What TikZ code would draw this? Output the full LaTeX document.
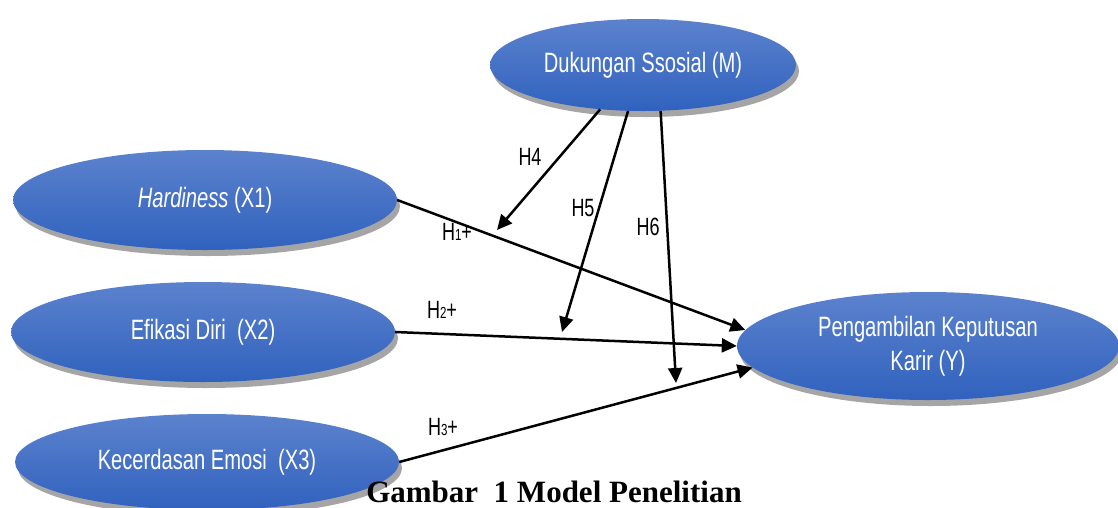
\documentclass[tikz,border=0pt]{standalone}
\usepackage{fontspec}
\setmainfont{Liberation Serif}
\newfontfamily\agency[FakeStretch=0.72]{Liberation Sans}
\definecolor{BoxTop}{RGB}{92,130,205}
\definecolor{BoxBottom}{RGB}{48,98,190}
\usetikzlibrary{arrows.meta,shapes.geometric,shadows}
\begin{document}
\begin{tikzpicture}[x=1pt,y=-1pt,
  var/.style={ellipse,inner sep=0pt,top color=BoxTop,bottom color=BoxBottom,
    text=white,align=center,font=\agency\fontsize{28}{34}\selectfont,
    drop shadow={shadow xshift=3pt,shadow yshift=-6pt,opacity=0.5,fill=black!70}},
  hyp/.style={font=\agency\fontsize{25}{28}\selectfont},
  link/.style={-{Triangle[length=15pt,width=14pt]},line width=2.5pt}]
\useasboundingbox (0,0) rectangle (1118,507);
% variables
\node[var,minimum width=306pt,minimum height=92pt] (m) at (643,65) {Dukungan Ssosial (M)};
\node[var,minimum width=384pt,minimum height=100pt] (x1) at (205,200) {\textit{Hardiness} (X1)};
\node[var,minimum width=384pt,minimum height=100pt] (x2) at (203,332) {Efikasi Diri~ (X2)};
\node[var,minimum width=384pt,minimum height=96pt] (x3) at (207,462) {Kecerdasan Emosi~ (X3)};
\node[var,minimum width=382pt,minimum height=108pt] (y) at (928,346) {Pengambilan Keputusan\\Karir (Y)};
% direct paths
\draw[link] (x1.east) -- (y.175);
\draw[link] (x2.east) -- (y.west);
\draw[link] (x3.east) -- (y.187);
% moderation
\coordinate (h4end) at (497,230);
\coordinate (h5end) at (562,332);
\coordinate (h6end) at (676,383);
\draw[link] (m.226) -- (h4end);
\draw[link] (m.252) -- (h5end);
\draw[link] (m.291) -- (h6end);
% labels
\node[hyp] (h1) at (457,232) {H{\fontsize{16}{16}\selectfont 1}+};
\node[hyp] (h2) at (442,310) {H{\fontsize{16}{16}\selectfont 2}+};
\node[hyp] (h3) at (443,427) {H{\fontsize{16}{16}\selectfont 3}+};
\node[hyp] (h4) at (530,157) {H4};
\node[hyp] (h5) at (583,208) {H5};
\node[hyp] (h6) at (648,227) {H6};
\node[anchor=base,inner ysep=1pt,font=\bfseries\fontsize{31}{34}\selectfont] (cap) at (554,502) {Gambar\ \ 1 Model Penelitian};
\end{tikzpicture}
\end{document}
